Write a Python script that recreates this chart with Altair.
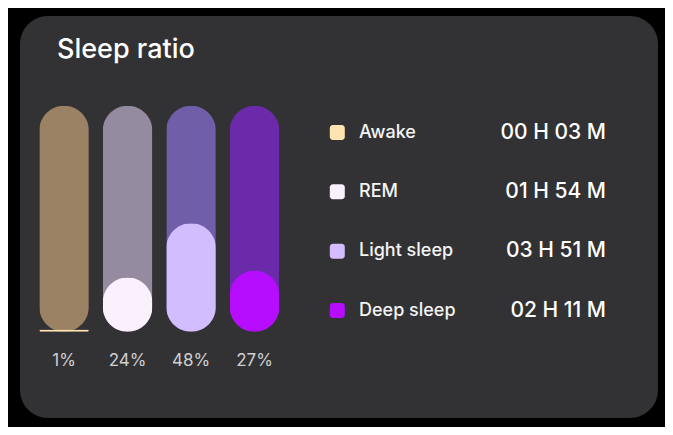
import altair as alt
import pandas as pd

TITLE = "Sleep ratio"
stages = ["Awake", "REM", "Light sleep", "Deep sleep"]
percents = [1, 24, 48, 27]
pct_labels = ["1%", "24%", "48%", "27%"]
durations = ["00 H 03 M", "01 H 54 M", "03 H 51 M", "02 H 11 M"]
fg_colors = ["#ffe3b0", "#fbf0fe", "#d2bdfe", "#b70dfe"]
bg_colors = ["#9b8264", "#948ba0", "#6f5fa9", "#6a2aa9"]

df = pd.DataFrame({
    "stage": stages,
    "pct": percents,
    "full": [100] * len(stages),
    "label": pct_labels,
    "dur": durations,
})

FONT = "Inter"

xs = alt.X("stage:N", sort=stages, axis=None,
           scale=alt.Scale(domain=stages, range=[19.3, 259.3], paddingInner=0.22, paddingOuter=0))
ys = alt.Y("full:Q", axis=None, scale=alt.Scale(domain=[0, 100], range=[315.7, 89.7]))

base = alt.Chart(df)

bg = base.mark_bar(cornerRadius=24.7).encode(
    x=xs, y=ys,
    color=alt.Color("stage:N", scale=alt.Scale(domain=stages, range=bg_colors), legend=None),
)
fg = base.mark_bar(cornerRadius=24.7).encode(
    x=xs,
    y=alt.Y("pct:Q", axis=None, scale=alt.Scale(domain=[0, 100], range=[315.7, 89.7])),
    fill=alt.Fill("stage:N", scale=alt.Scale(domain=stages, range=fg_colors), legend=None),
)
pct_text = base.mark_text(font=FONT, fontSize=17, color="#cfcfd1", baseline="middle").encode(
    x=xs, y=alt.value(344.5), text="label:N"
)
title = alt.Chart(pd.DataFrame({"t": [TITLE]})).mark_text(
    font=FONT, fontSize=27, color="#ffffff", align="left", baseline="alphabetic", fontWeight=500
).encode(x=alt.value(37), y=alt.value(42), text="t:N")

bars = alt.layer(bg, fg, pct_text)

ly = alt.Y("stage:N", sort=stages, axis=None,
           scale=alt.Scale(type="point", domain=stages, range=[116.5, 294.5], padding=0))
sq = base.mark_rect(width=15, height=15, cornerRadius=3).encode(
    x=alt.value(317.3), y=ly,
    fill=alt.Fill("stage:N", scale=alt.Scale(domain=stages, range=fg_colors), legend=None),
)
lab = base.mark_text(font=FONT, fontSize=18, color="#f4f4f4", align="left", baseline="middle",
                     fontWeight=500).encode(
    x=alt.value(339), y=ly, text="stage:N"
)
dur = base.mark_text(font=FONT, fontSize=21, color="#ffffff", align="right", baseline="middle",
                     fontWeight=500).encode(
    x=alt.value(586), y=ly, text="dur:N"
)
legend = alt.layer(sq, lab, dur)

chart = alt.layer(bars, legend, title).resolve_scale(
    x="independent", y="independent", color="independent", fill="independent"
).properties(
    width=638, height=402,
    padding={"left": 12, "top": 8, "right": 7, "bottom": 9},
    background="#000000",
).configure_view(
    fill="#323234", stroke=None, cornerRadius=28
)

chart.save("out.html", embed_options={"renderer": "svg", "actions": False})
